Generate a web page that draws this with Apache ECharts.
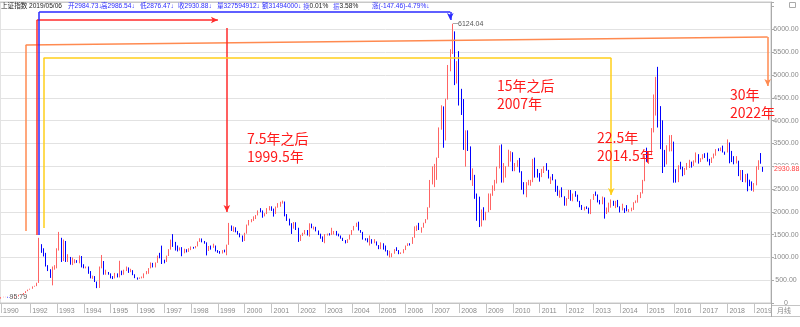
<!DOCTYPE html>
<html>
<head>
<meta charset="utf-8">
<script src="https://cdn.jsdelivr.net/npm/echarts@6.0.0/dist/echarts.min.js"></script>
<style>
    html, body { margin: 0; padding: 0; background: #fff; }
    #main { width: 800px; height: 327px; }
</style>
</head>
<body>
<div id="main"></div>
<script type="text/javascript">
    // 上证指数 月线 1990-12 ~ 2019-05（开、收、低、高）
    var opens = [
        96,
        128,130,133,120,114,115,138,145,181,181,219,260,
        293,313,364,371,445,1266,1166,1047,823,737,558,764,
        780,1180,1428,926,1359,935,1007,874,881,914,897,1016,
        834,770,793,694,560,586,467,334,768,915,647,677,
        648,563,549,643,584,701,631,711,719,680,717,621,
        555,537,552,552,641,645,764,840,808,884,1032,1017,
        917,914,1034,1172,1380,1331,1227,1157,1218,1097,1173,1155,
        1194,1222,1207,1243,1343,1411,1339,1321,1150,1243,1217,1249,
        1147,1135,1090,1158,1121,1279,1689,1601,1627,1557,1518,1471,
        1367,1535,1715,1800,1836,1895,1928,2024,2022,1910,1961,2071,
        2073,2066,1959,2113,2119,2214,2218,1920,1834,1724,1690,1748,
        1646,1380,1482,1525,1595,1509,1733,1653,1669,1581,1508,1443,
        1358,1500,1512,1511,1521,1576,1486,1477,1422,1367,1348,1397,
        1497,1591,1675,1742,1596,1556,1399,1386,1342,1397,1321,1341,
        1267,1192,1306,1181,1159,1061,1081,1083,1163,1156,1093,1099,
        1161,1258,1299,1298,1440,1641,1672,1613,1659,1752,1838,2099,
        2675,2786,2881,3184,3841,4110,3821,4471,5219,5552,5955,4872,
        5262,4383,4349,3473,3693,3433,2736,2776,2397,2294,1729,1871,
        1821,1991,2083,2373,2478,2633,2959,3412,2668,2779,2996,3195,
        3277,2989,3052,3109,2871,2592,2398,2638,2639,2656,2979,2820,
        2808,2791,2905,2928,2912,2743,2762,2702,2567,2359,2468,2333,
        2199,2293,2428,2263,2396,2372,2225,2104,2048,2086,2069,1980,
        2269,2385,2366,2237,2178,2301,1979,1994,2098,2175,2142,2221,
        2116,2033,2056,2033,2026,2039,2048,2202,2217,2364,2420,2683,
        3235,3210,3310,3748,4442,4612,4277,3664,3206,3053,3383,3445,
        3539,2738,2688,3004,2938,2917,2930,2979,3085,3005,3100,3250,
        3104,3159,3242,3223,3155,3117,3192,3273,3361,3349,3393,3317,
        3307,3481,3259,3169,3082,3095,2847,2876,2725,2821,2603,2588,
        2494,2585,2941,3091,2984.73
    ];
    var closes = [
        128,
        130,133,120,114,115,138,145,181,181,219,260,293,
        313,364,371,445,1266,1166,1047,823,737,558,764,780,
        1180,1428,926,1359,935,1007,874,881,914,897,1016,834,
        770,793,694,560,586,467,334,768,915,647,677,648,
        563,549,643,584,701,631,711,719,680,717,621,555,
        537,552,552,641,645,764,840,808,884,1032,1017,917,
        914,1034,1172,1380,1331,1227,1157,1218,1097,1173,1155,1194,
        1222,1207,1243,1343,1411,1339,1321,1150,1243,1217,1249,1147,
        1135,1090,1158,1121,1279,1689,1601,1627,1557,1518,1471,1367,
        1535,1715,1800,1836,1895,1928,2024,2022,1910,1961,2071,2073,
        2066,1959,2113,2119,2214,2218,1920,1834,1724,1690,1748,1646,
        1380,1482,1525,1595,1509,1733,1653,1669,1581,1508,1443,1358,
        1500,1512,1511,1521,1576,1486,1477,1422,1367,1348,1397,1497,
        1591,1675,1742,1596,1556,1399,1386,1342,1397,1321,1341,1267,
        1192,1306,1181,1159,1061,1081,1083,1163,1156,1093,1099,1161,
        1258,1299,1298,1440,1641,1672,1613,1659,1752,1838,2099,2675,
        2786,2881,3184,3841,4110,3821,4471,5219,5552,5955,4872,5262,
        4383,4349,3473,3693,3433,2736,2776,2397,2294,1729,1871,1821,
        1991,2083,2373,2478,2633,2959,3412,2668,2779,2996,3195,3277,
        2989,3052,3109,2871,2592,2398,2638,2639,2656,2979,2820,2808,
        2791,2905,2928,2912,2743,2762,2702,2567,2359,2468,2333,2199,
        2293,2428,2263,2396,2372,2225,2104,2048,2086,2069,1980,2269,
        2385,2366,2237,2178,2301,1979,1994,2098,2175,2142,2221,2116,
        2033,2056,2033,2026,2039,2048,2202,2217,2364,2420,2683,3235,
        3210,3310,3748,4442,4612,4277,3664,3206,3053,3383,3445,3539,
        2738,2688,3004,2938,2917,2930,2979,3085,3005,3100,3250,3104,
        3159,3242,3223,3155,3117,3192,3273,3361,3349,3393,3317,3307,
        3481,3259,3169,3082,3095,2847,2876,2725,2821,2603,2588,2494,
        2585,2941,3091,3078,2930.88
    ];
    var lows = [
        95.79,
        127,129,120,113,105,114,137,145,178,180,218,259,
        292,312,357,370,440,1100,1020,800,700,550,387,730,
        760,1150,900,920,900,900,840,830,870,880,870,780,
        760,760,640,540,530,460,326,330,760,620,620,620,
        540,524,540,560,560,610,620,700,660,675,610,545,
        512,530,540,545,630,640,760,780,780,880,980,855,
        870,900,1030,1170,1230,1150,1130,1150,1025,1090,1110,1120,
        1160,1190,1200,1240,1340,1330,1300,1043,1140,1170,1210,1130,
        1100,1080,1085,1110,1047,1275,1580,1560,1550,1500,1440,1342,
        1360,1520,1700,1770,1800,1840,1920,1990,1870,1900,1950,2030,
        2020,1894,1950,2090,2110,2180,1900,1800,1700,1514,1630,1600,
        1339,1360,1470,1510,1480,1455,1640,1610,1570,1490,1410,1340,
        1311,1480,1480,1490,1500,1480,1460,1410,1360,1307,1316,1390,
        1490,1590,1670,1590,1540,1390,1370,1330,1260,1300,1310,1260,
        1180,1180,1170,1130,1040,998,1005,1080,1140,1070,1074,1090,
        1160,1250,1260,1296,1430,1580,1600,1541,1650,1750,1830,2090,
        2600,2541,2700,3180,3800,3404,3563,4460,5080,5460,4778,4812,
        4330,4123,3357,2990,3333,2693,2567,2284,1802,1665,1678,1814,
        1814,1991,2038,2350,2460,2620,2950,2640,2640,2750,2990,3100,
        2890,2890,2980,2860,2481,2382,2319,2580,2570,2650,2750,2750,
        2661,2760,2850,2900,2730,2610,2690,2437,2350,2307,2320,2134,
        2132,2280,2242,2230,2330,2222,2100,2040,2029,2060,1960,1949,
        2260,2350,2205,2162,2165,1850,1951,1990,2090,2130,2080,2100,
        1985,2030,1974,2010,1991,2010,2040,2190,2200,2300,2400,2670,
        3095,3049,3240,3740,4110,3848,3373,2850,2983,3039,3322,3327,
        2638,2639,2650,2930,2780,2807,2920,2960,2969,3004,3080,3056,
        3090,3150,3181,3100,3016,3070,3170,3230,3330,3330,3300,3250,
        3300,3063,3090,3041,3060,2782,2691,2653,2644,2449,2561,2463,
        2440,2580,2920,3054,2876.47
    ];
    var highs = [
        128,
        135,134,135,121,115,138,146,181,191,219,260,293,
        313,364,377,445,1429,1290,1200,1100,830,740,800,830,
        1200,1559,1430,1392,1360,1070,1010,1000,960,940,1044,1030,
        850,800,800,700,600,590,470,800,1053,920,730,680,
        650,590,660,650,926,710,730,800,780,750,720,630,
        560,560,580,650,700,765,890,880,890,1040,1100,1258,
        950,1040,1180,1390,1510,1340,1260,1220,1225,1190,1180,1200,
        1240,1230,1250,1350,1420,1415,1360,1330,1250,1260,1300,1260,
        1160,1140,1160,1170,1280,1756,1700,1680,1660,1580,1530,1480,
        1540,1720,1820,1840,1900,1930,2030,2080,2030,1970,2080,2125,
        2120,2070,2115,2190,2220,2245,2225,1950,1850,1750,1776,1770,
        1650,1490,1540,1600,1600,1748,1740,1680,1670,1590,1520,1460,
        1510,1520,1530,1649,1580,1580,1520,1480,1430,1380,1400,1500,
        1600,1690,1760,1783,1600,1560,1420,1420,1480,1400,1400,1350,
        1270,1330,1310,1260,1160,1146,1090,1180,1223,1160,1110,1180,
        1260,1310,1310,1445,1680,1700,1757,1660,1760,1840,2100,2698,
        2995,3050,3190,3850,4335,4311,4480,5219,5563,6124.04,5956,5303,
        5523,4696,4472,3786,3786,3434,2952,2810,2400,2332,2050,2100,
        2000,2402,2400,2580,2700,2990,3455,3478,3068,3000,3361,3330,
        3306,3070,3131,3181,2890,2650,2650,2700,2700,3160,3187,2939,
        2850,2940,3000,3067,2920,2770,2827,2710,2570,2470,2536,2340,
        2300,2480,2478,2400,2453,2375,2240,2150,2110,2120,2090,2275,
        2390,2444,2380,2260,2335,2315,2093,2200,2270,2243,2240,2260,
        2120,2177,2080,2146,2061,2090,2210,2248,2370,2430,2700,3239,
        3406,3326,3835,4572,4959,5178,4317,4006,3357,3459,3679,3684,
        3539,2934,3020,3097,2990,2960,3071,3140,3100,3128,3301,3264,
        3175,3264,3284,3296,3160,3193,3277,3375,3392,3410,3451,3320,
        3587,3520,3335,3220,3220,3120,2916,2916,2827,2838,2704,2666,
        2630,2998,3130,3288,2986.54
    ];
    var yTicks = [0, 500, 1000, 1500, 2000, 2500, 3000, 3500, 4000, 4500, 5000, 5500, 6000];

    // 顶部行情栏各字段
    var quoteFields = [
        ['上证指数', 'k'], ['2019/05/06', 'k'],
        ['开2984.73↓', 'b'], ['高2986.54↓', 'b'], ['低2876.47↓', 'b'], ['收2930.88↓', 'b'],
        ['量327594912↓', 'b'], ['额31494000↓', 'b'],
        ['{c|换}{k|0.01%}', 'r'], ['{c|振}{k|3.58%}', 'r'], ['涨(-147.46)-4.79%↓', 'b']
    ];
    var quoteX = [1, 29, 68, 101, 140, 178, 217, 262, 303, 333, 372];

    // 月份类目：1990-12 到 2019-08（最后三个月留空）
    var months = [];
    for (var y = 1990; y <= 2019; y++) {
        for (var m = 1; m <= 12; m++) {
            if (y === 1990 && m < 12) continue;
            if (y === 2019 && m > 8) break;
            months.push(y + '-' + (m < 10 ? '0' + m : m));
        }
    }

    var kdata = closes.map(function (c, i) {
        return [opens[i], c, lows[i], highs[i]];
    });

    // 年份分隔：1991 年不单独标出
    function yearStart(index, value) {
        return index === 0 || (value.slice(5) === '01' && value !== '1991-01');
    }

    // 手画的标注线（类目, 点位）
    function seg(c1, v1, c2, v2, color, arrow) {
        return [
            { coord: [c1, v1], symbol: 'none', lineStyle: { color: color, width: 1.5, type: 'solid' } },
            { coord: [c2, v2], symbol: arrow ? 'arrow' : 'none', symbolSize: [5, 7] }
        ];
    }
    var orange = '#ff8a50', red = '#ff2b2b', blue = '#2a2aff', yellow = '#ffcf1a';
    var guideLines = [
        seg('1991-11', 1580, '1991-11', 5658, orange),
        seg('1991-11', 5658, '2019-07', 5833, orange),
        seg('2019-07', 5833, '2019-07', 4759, orange, true),
        seg('1992-04', 1491, '1992-04', 6206, red),
        seg('1992-04', 6206, '1999-01', 6206, red, true),
        seg('1999-05', 6030, '1999-05', 1996, red, true),
        seg('1992-05', 1491, '1992-05', 6382, blue),
        seg('1992-05', 6382, '2007-09', 6382, blue),
        seg('2007-09', 6382, '2007-09', 6206, blue, true),
        seg('1992-07', 1645, '1992-07', 5373, yellow),
        seg('1992-07', 5373, '2013-09', 5373, yellow),
        seg('2013-09', 5373, '2013-09', 2368, yellow, true)
    ];
    var lastClose = closes[closes.length - 1];
    guideLines.push({
        yAxis: lastClose,
        lineStyle: { color: 'rgba(0,0,0,0)', width: 1 },
        label: {
            show: true, position: 'end', distance: 3, opacity: 1,
            formatter: lastClose.toFixed(2),
            color: '#ff3b3b', fontSize: 7, fontFamily: 'Liberation Sans',
            backgroundColor: '#fff', padding: [1, 0, 1, 0]
        }
    });

    var gridColors = yTicks.map(function () { return '#e2e2e2'; });
    gridColors.push('rgba(0,0,0,0)', '#c8c8c8');

    var cjk = '"Noto Sans CJK SC"';
    var quoteRich = {
        k: { fill: '#222', fontSize: 6.6, fontFamily: 'Liberation Sans, ' + cjk },
        b: { fill: '#2b2bff', fontSize: 6.6, fontFamily: 'Liberation Sans, ' + cjk },
        c: { fill: '#5a5aff', fontSize: 6.6, fontFamily: cjk }
    };

    function note(x, y, text) {
        return {
            type: 'text', left: x, top: y, z: 100,
            style: { text: text, fill: '#ff1a1a', fontSize: 14, fontFamily: cjk, lineHeight: 18 }
        };
    }

    var graphics = quoteFields.map(function (f, i) {
        var txt = f[1] === 'r' ? f[0] : '{' + f[1] + '|' + f[0] + '}';
        return { type: 'text', left: quoteX[i], top: 3, z: 100, style: { text: txt, fontSize: 6.6, rich: quoteRich } };
    });
    graphics = graphics.concat([
        // 底部年份栏
        { type: 'line', z: 50, shape: { x1: 0, y1: 316.5, x2: 800, y2: 316.5 }, style: { stroke: '#c4c4c4', lineWidth: 1 } },
        { type: 'line', z: 50, shape: { x1: 771, y1: 305.5, x2: 800, y2: 305.5 }, style: { stroke: '#c4c4c4', lineWidth: 1 } },
        { type: 'line', z: 50, shape: { x1: 771.5, y1: 303, x2: 771.5, y2: 317 }, style: { stroke: '#aaa', lineWidth: 1 } },
        { type: 'text', left: 777, top: 307, z: 50, style: { text: '月线', fill: '#8a8a8a', fontSize: 7, fontFamily: cjk } },
        { type: 'rect', z: 50, shape: { x: 789.5, y: 2.5, width: 6, height: 5 }, style: { stroke: '#aaa', fill: '#fff', lineWidth: 1 } },
        // 红字标注
        note(247, 130, '7.5年之后\n1999.5年'),
        note(497, 77, '15年之后\n2007年'),
        note(597, 129, '22.5年\n2014.5年'),
        note(730, 86, '30年\n2022年')
    ]);

    var myChart = echarts.init(document.getElementById('main'));
    var option = {
        animation: false,
        backgroundColor: '#fff',
        textStyle: { fontFamily: 'Liberation Sans' },
        grid: {
            left: 0, right: 29, top: 2, bottom: 24,
            show: true, borderColor: '#c8c8c8', borderWidth: 1,
            outerBoundsMode: 'none'
        },
        xAxis: {
            type: 'category',
            data: months,
            max: months.length - 1,
            offset: 3,
            axisLine: { show: true, lineStyle: { color: '#c4c4c4', width: 1 } },
            axisTick: {
                show: true, length: 10, alignWithLabel: true,
                interval: yearStart,
                lineStyle: { color: '#c4c4c4' }
            },
            axisLabel: {
                interval: yearStart,
                formatter: function (v) { return v.slice(0, 4); },
                align: 'left', padding: [0, 0, 0, 2], margin: 1,
                color: '#8a8a8a', fontSize: 7, lineHeight: 8
            },
            splitLine: { show: false }
        },
        yAxis: {
            type: 'value',
            position: 'right',
            min: 0, max: 6600, interval: 500,
            axisLine: { show: true, lineStyle: { color: '#aaa' } },
            axisTick: { show: true, length: 3, lineStyle: { color: '#aaa' } },
            axisLabel: {
                margin: 15, align: 'center', color: '#8a8a8a', fontSize: 7,
                formatter: function (v) {
                    if (v === 0) return '0';
                    if (v > 6000) return '';
                    return v.toFixed(2);
                }
            },
            splitLine: { show: true, lineStyle: { color: gridColors, width: 1 } }
        },
        series: [{
            name: '上证指数',
            type: 'candlestick',
            data: kdata,
            clip: false,
            barWidth: 1,
            itemStyle: {
                color: '#ff6464', borderColor: '#ff6464',
                color0: '#0000ff', borderColor0: '#0000ff',
                borderWidth: 1
            },
            markPoint: {
                symbol: 'circle', symbolSize: 1,
                itemStyle: { color: 'rgba(0,0,0,0)' },
                silent: true,
                data: [
                    {
                        type: 'max', valueDim: 'highest',
                        label: {
                            show: true, position: 'right', distance: 0,
                            formatter: function (p) { return '\u2500' + Number(p.value).toFixed(2); },
                            color: '#555', fontSize: 7, fontFamily: 'Liberation Sans'
                        }
                    },
                    {
                        type: 'min', valueDim: 'lowest',
                        label: {
                            show: true, position: 'right', distance: 8, offset: [0, -2],
                            formatter: function (p) { return Number(p.value).toFixed(2); },
                            color: '#555', fontSize: 7, fontFamily: 'Liberation Sans'
                        }
                    }
                ]
            },
            markLine: {
                silent: true,
                symbol: ['none', 'none'],
                label: { show: false },
                data: guideLines
            }
        }],
        graphic: graphics
    };
    myChart.setOption(option);
</script>
</body>
</html>
